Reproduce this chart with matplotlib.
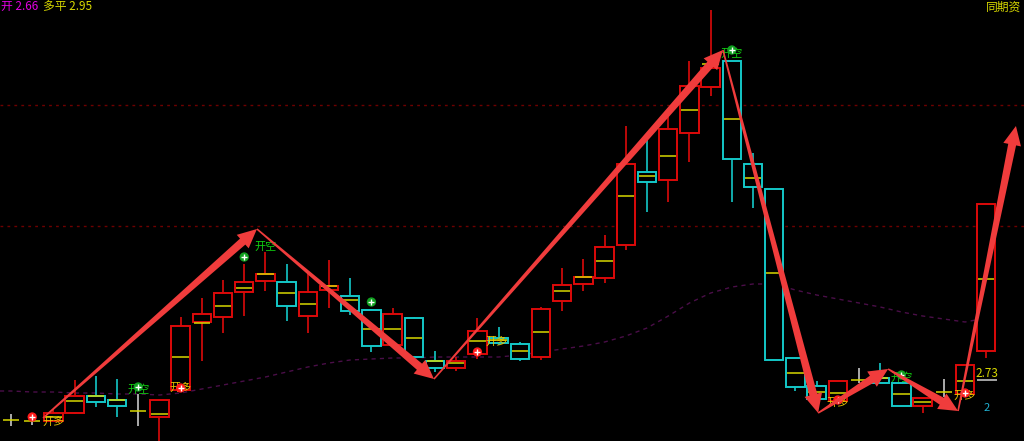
import matplotlib
matplotlib.use('Agg')
import matplotlib.pyplot as plt
from matplotlib.patches import Polygon
from matplotlib.transforms import IdentityTransform
import numpy as np

plt.rcParams['font.family'] = ['Noto Sans CJK SC', 'DejaVu Sans']

# candle data (price values)
opens = [2.684, 2.683, 2.683, 2.691, 2.708, 2.704, 2.693, 2.687, 2.714, 2.782,
         2.787, 2.812, 2.823, 2.822, 2.788, 2.814, 2.808, 2.794, 2.759, 2.786,
         2.743, 2.736, 2.750, 2.766, 2.760, 2.747, 2.803, 2.820, 2.826, 2.859,
         2.932, 2.924, 2.971, 3.017, 3.043, 2.940, 2.915, 2.746, 2.718, 2.703,
         2.724, 2.726, 2.721, 2.698, 2.712, 2.710, 2.753]
highs = [2.690, 2.689, 2.695, 2.724, 2.728, 2.725, 2.710, 2.704, 2.787, 2.806,
         2.824, 2.840, 2.852, 2.840, 2.832, 2.844, 2.826, 2.795, 2.796, 2.787,
         2.753, 2.747, 2.786, 2.777, 2.762, 2.797, 2.836, 2.845, 2.869, 2.978,
         2.964, 2.987, 3.043, 3.094, 3.043, 2.951, 2.915, 2.746, 2.723, 2.723,
         2.736, 2.741, 2.721, 2.706, 2.725, 2.739, 2.900]
lows = [2.678, 2.679, 2.683, 2.690, 2.697, 2.687, 2.678, 2.659, 2.714, 2.743,
        2.771, 2.788, 2.813, 2.783, 2.771, 2.796, 2.789, 2.752, 2.759, 2.747,
        2.732, 2.733, 2.745, 2.759, 2.743, 2.744, 2.793, 2.813, 2.821, 2.854,
        2.892, 2.902, 2.942, 3.008, 2.902, 2.896, 2.744, 2.713, 2.705, 2.703,
        2.721, 2.721, 2.698, 2.691, 2.707, 2.710, 2.746]
closes = [2.684, 2.683, 2.691, 2.708, 2.702, 2.698, 2.693, 2.704, 2.778, 2.790,
          2.811, 2.822, 2.830, 2.798, 2.812, 2.818, 2.793, 2.758, 2.790, 2.747,
          2.736, 2.743, 2.773, 2.761, 2.745, 2.795, 2.819, 2.827, 2.857, 2.940,
          2.922, 2.975, 3.018, 3.036, 2.945, 2.917, 2.744, 2.717, 2.705, 2.723,
          2.724, 2.721, 2.698, 2.706, 2.712, 2.739, 2.900]
avg_price = [2.684, 2.683, 2.687, 2.703, 2.708, 2.704, 2.693, 2.690, 2.747, 2.781,
             2.798, 2.816, 2.830, 2.811, 2.800, 2.818, 2.804, 2.775, 2.775, 2.766,
             2.743, 2.741, 2.763, 2.764, 2.753, 2.772, 2.813, 2.827, 2.843, 2.908,
             2.928, 2.948, 2.994, 3.040, 2.985, 2.926, 2.831, 2.731, 2.712, 2.711,
             2.724, 2.726, 2.710, 2.702, 2.712, 2.723, 2.825]
ma_line = [2.713, 2.712, 2.712, 2.711, 2.711, 2.710, 2.710, 2.709, 2.711, 2.715,
           2.719, 2.723, 2.727, 2.732, 2.737, 2.741, 2.744, 2.745, 2.746, 2.746,
           2.747, 2.747, 2.747, 2.747, 2.749, 2.752, 2.755, 2.758, 2.762, 2.768,
           2.776, 2.788, 2.801, 2.811, 2.817, 2.820, 2.820, 2.814, 2.809, 2.805,
           2.801, 2.797, 2.792, 2.788, 2.785, 2.782, 2.786]

# signals
long_idx = [2, 8, 22.9, 39, 45]
long_y = [2.682, 2.716, 2.762, 2.701, 2.708]
long_dot_idx = [1, 8, 22, 39, 45]
long_dot_y = [2.687, 2.716, 2.752, 2.704, 2.711]
short_idx = [6, 12, 34, 42]
short_y = [2.714, 2.857, 3.050, 2.726]
short_dot_idx = [6, 11, 17, 34, 42]
short_dot_y = [2.717, 2.847, 2.802, 3.054, 2.729]

# swing arrows (index, price)
swing_x = [1.51, 11.6, 19.95, 33.58, 38.07, 41.37, 44.67, 47.4]
swing_y = [2.686, 2.875, 2.725, 3.054, 2.691, 2.735, 2.693, 2.978]

level_lines = [2.999, 2.878]
last_price = 2.73

n = len(opens)
x = np.arange(n)
o = np.array(opens)
c = np.array(closes)
doji = np.isclose(o, c)
up = (c > o) & ~doji
down = (c < o) & ~doji

RED = '#dc0a0a'
CYAN = '#14c8c8'
YEL = '#d8d800'
w = 0.87

fig = plt.figure(figsize=(10.24, 4.41), dpi=100)
fig.patch.set_facecolor('black')
ax = fig.add_axes([0, 0, 1, 1])
ax.set_facecolor('black')
ax.set_axis_off()
ax.set_xlim(-0.519, 47.78)
ax.set_ylim(2.663, 3.104)

for lv in level_lines:
    ax.axhline(lv, color='#6e0000', lw=1, ls=(0, (2, 3)), zorder=0)

ax.plot(np.r_[-0.52, x], np.r_[ma_line[0], ma_line], color='#4a0e48', lw=1,
        ls=(0, (3, 3)), zorder=0.5)

wick_col = np.where(up, RED, np.where(down, CYAN, '#c8c8c8'))
ax.vlines(x, lows, highs, colors=wick_col, lw=1.2, zorder=1)

body_col = [RED if u else CYAN for u in up[~doji]]
ax.bar(x[~doji], np.abs(c - o)[~doji], bottom=np.minimum(o, c)[~doji], width=w,
       facecolor='black', edgecolor=body_col, linewidth=1.4, zorder=2)
ax.hlines(avg_price, x - w / 2 + 0.05, x + w / 2 - 0.05, colors=YEL, lw=1.1, zorder=3)

# markers
ax.scatter(long_dot_idx, long_dot_y, s=45, color='#ff1a1a', zorder=6, edgecolors='none')
ax.scatter(long_dot_idx, long_dot_y, s=14, marker='+', color='white', lw=1, zorder=7)
ax.scatter(short_dot_idx, short_dot_y, s=45, color='#10a020', zorder=6, edgecolors='none')
ax.scatter(short_dot_idx, short_dot_y, s=14, marker='+', color='white', lw=1, zorder=7)

for xi, yi in zip(long_idx, long_y):
    ax.text(xi, yi, '开多', color='#e8c400', fontsize=8, ha='center', va='center', zorder=5)
for xi, yi in zip(short_idx, short_y):
    ax.text(xi, yi, '开空', color='#10d010', fontsize=8, ha='center', va='center', zorder=5)


def tapered_arrow(p0, p1, head_len=19, head_w=9, tail_end=4, tail_start=0.8):
    # build the arrow shape in pixel space from the data points
    a = ax.transData.transform(p0)
    b = ax.transData.transform(p1)
    d = b - a
    u = d / np.hypot(*d)
    nv = np.array([-u[1], u[0]])
    base = b - u * head_len
    pts = [a + nv * tail_start, base + nv * tail_end, base + nv * head_w, b,
           base - nv * head_w, base - nv * tail_end, a - nv * tail_start]
    poly = Polygon(pts, closed=True, transform=IdentityTransform(),
                   facecolor='#f03c3c', edgecolor='none', zorder=8)
    ax.add_artist(poly)


for i in range(len(swing_x) - 1):
    tapered_arrow((swing_x[i], swing_y[i]), (swing_x[i + 1], swing_y[i + 1]))

ax.text(n - 1.5, last_price, '%.2f' % last_price, color=YEL, fontsize=8.5,
        ha='left', va='center', zorder=9)
ax.hlines(last_price - 0.0065, n - 1.45, n - 0.5, colors='#c0c0c0', lw=1.2, zorder=9)
ax.text(n - 1, 2.696, '2', color='#20b0d0', fontsize=8, ha='center', va='center', zorder=9)

ax.text(0.001, 0.999, '开 2.66', color='#e000e0', fontsize=8.5, ha='left', va='top',
        transform=ax.transAxes)
ax.text(0.042, 0.999, '多平 2.95', color='#d8d800', fontsize=8.5, ha='left', va='top',
        transform=ax.transAxes)
ax.text(0.997, 0.999, '同期资', color='#d8d800', fontsize=8.5, ha='right', va='top',
        transform=ax.transAxes)

fig.savefig('out.png', dpi=100, facecolor='black')
